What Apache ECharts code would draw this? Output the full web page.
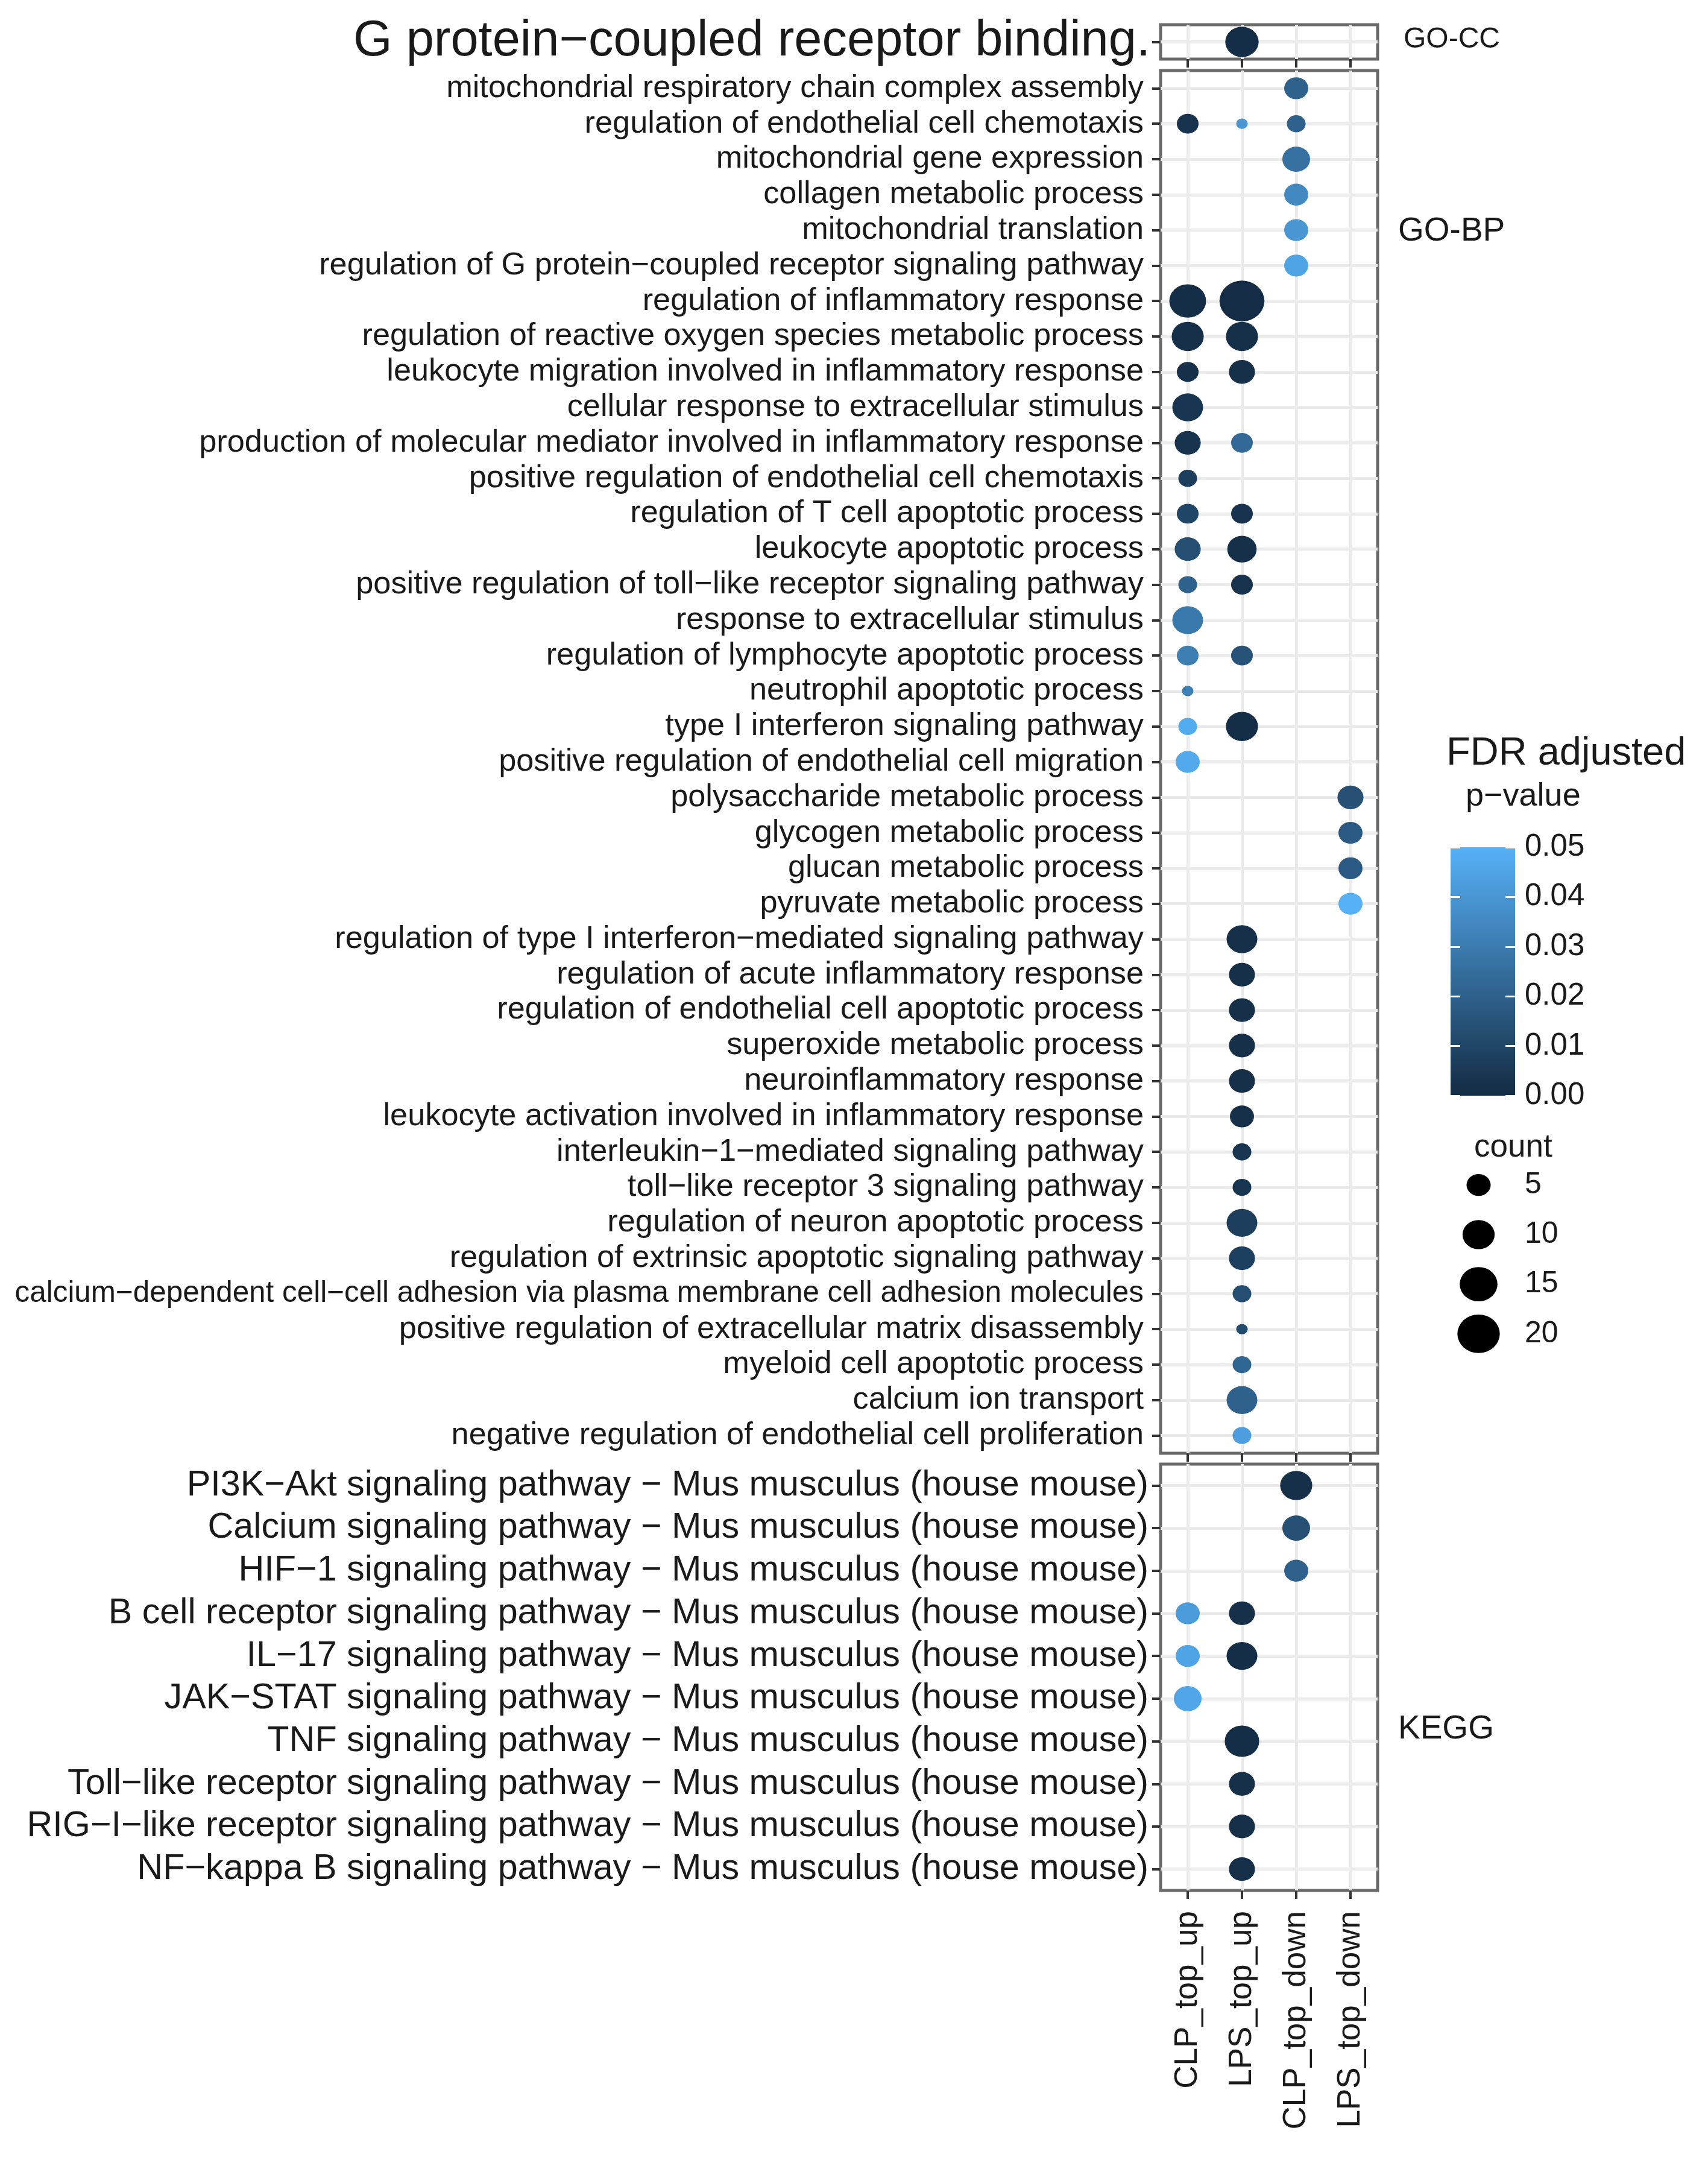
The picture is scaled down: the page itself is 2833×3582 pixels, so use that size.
<!DOCTYPE html>
<html><head><meta charset="utf-8">
<script src="https://cdn.jsdelivr.net/npm/echarts@6/dist/echarts.min.js"></script>
<style>html,body{margin:0;padding:0;background:#fff}#c{width:2833px;height:3582px}</style>
</head><body><div id="c"></div>
<script>
const _ = null;
const groups = ['CLP_top_up', 'LPS_top_up', 'CLP_top_down', 'LPS_top_down'];

// GO-CC
const ccTerms = ['G protein−coupled receptor binding.'];
const ccCountCLPup = [_];   const ccPvalCLPup = [_];
const ccCountLPSup = [11];  const ccPvalLPSup = [0.001];
const ccCountCLPdown = [_]; const ccPvalCLPdown = [_];
const ccCountLPSdown = [_]; const ccPvalLPSdown = [_];

// GO-BP
const bpTerms = [
  'mitochondrial respiratory chain complex assembly',
  'regulation of endothelial cell chemotaxis',
  'mitochondrial gene expression',
  'collagen metabolic process',
  'mitochondrial translation',
  'regulation of G protein−coupled receptor signaling pathway',
  'regulation of inflammatory response',
  'regulation of reactive oxygen species metabolic process',
  'leukocyte migration involved in inflammatory response',
  'cellular response to extracellular stimulus',
  'production of molecular mediator involved in inflammatory response',
  'positive regulation of endothelial cell chemotaxis',
  'regulation of T cell apoptotic process',
  'leukocyte apoptotic process',
  'positive regulation of toll−like receptor signaling pathway',
  'response to extracellular stimulus',
  'regulation of lymphocyte apoptotic process',
  'neutrophil apoptotic process',
  'type I interferon signaling pathway',
  'positive regulation of endothelial cell migration',
  'polysaccharide metabolic process',
  'glycogen metabolic process',
  'glucan metabolic process',
  'pyruvate metabolic process',
  'regulation of type I interferon−mediated signaling pathway',
  'regulation of acute inflammatory response',
  'regulation of endothelial cell apoptotic process',
  'superoxide metabolic process',
  'neuroinflammatory response',
  'leukocyte activation involved in inflammatory response',
  'interleukin−1−mediated signaling pathway',
  'toll−like receptor 3 signaling pathway',
  'regulation of neuron apoptotic process',
  'regulation of extrinsic apoptotic signaling pathway',
  'calcium−dependent cell−cell adhesion via plasma membrane cell adhesion molecules',
  'positive regulation of extracellular matrix disassembly',
  'myeloid cell apoptotic process',
  'calcium ion transport',
  'negative regulation of endothelial cell proliferation'
];
const bpCountCLPup = [_,4,_,_,_,_,14,10,4,9, 6,3,4,6,3,9,4,2,3,5, _,_,_,_,_,_,_,_,_,_, _,_,_,_,_,_,_,_,_];
const bpPvalCLPup  = [_,0.003,_,_,_,_,0.001,0.002,0.002,0.004, 0.003,0.007,0.010,0.013,0.020,0.029,0.031,0.032,0.048,0.047, _,_,_,_,_,_,_,_,_,_, _,_,_,_,_,_,_,_,_];
const bpCountLPSup = [_,2,_,_,_,_,23,10,6,_, 4,_,4,8,4,_,4,_,10,_, _,_,_,_,9,6,6,6,6,5, 3,3,9,6,3,2,3,9,3];
const bpPvalLPSup  = [_,0.040,_,_,_,_,0.0005,0.002,0.002,_, 0.023,_,0.003,0.002,0.003,_,0.015,_,0.001,_, _,_,_,_,0.002,0.002,0.002,0.002,0.002,0.002, 0.004,0.004,0.007,0.008,0.013,0.012,0.022,0.020,0.043];
const bpCountCLPdown = [5,3,7,5,5,5,_,_,_,_, _,_,_,_,_,_,_,_,_,_, _,_,_,_,_,_,_,_,_,_, _,_,_,_,_,_,_,_,_];
const bpPvalCLPdown  = [0.020,0.020,0.026,0.035,0.040,0.045,_,_,_,_, _,_,_,_,_,_,_,_,_,_, _,_,_,_,_,_,_,_,_,_, _,_,_,_,_,_,_,_,_];
const bpCountLPSdown = [_,_,_,_,_,_,_,_,_,_, _,_,_,_,_,_,_,_,_,_, 6,5,5,5,_,_,_,_,_,_, _,_,_,_,_,_,_,_,_];
const bpPvalLPSdown  = [_,_,_,_,_,_,_,_,_,_, _,_,_,_,_,_,_,_,_,_, 0.014,0.018,0.018,0.050,_,_,_,_,_,_, _,_,_,_,_,_,_,_,_];

// KEGG
const keggTerms = [
  'PI3K−Akt signaling pathway − Mus musculus (house mouse)',
  'Calcium signaling pathway − Mus musculus (house mouse)',
  'HIF−1 signaling pathway − Mus musculus (house mouse)',
  'B cell receptor signaling pathway − Mus musculus (house mouse)',
  'IL−17 signaling pathway − Mus musculus (house mouse)',
  'JAK−STAT signaling pathway − Mus musculus (house mouse)',
  'TNF signaling pathway − Mus musculus (house mouse)',
  'Toll−like receptor signaling pathway − Mus musculus (house mouse)',
  'RIG−I−like receptor signaling pathway − Mus musculus (house mouse)',
  'NF−kappa B signaling pathway − Mus musculus (house mouse)'
];
const keggCountCLPup = [_,_,_,5,5,7,_,_,_,_];
const keggPvalCLPup  = [_,_,_,0.042,0.045,0.046,_,_,_,_];
const keggCountLPSup = [_,_,_,6,9,_,12,6,6,6];
const keggPvalLPSup  = [_,_,_,0.002,0.001,_,0.001,0.002,0.002,0.002];
const keggCountCLPdown = [10,7,5,_,_,_,_,_,_,_];
const keggPvalCLPdown  = [0.002,0.014,0.020,_,_,_,_,_,_,_];
const keggCountLPSdown = [_,_,_,_,_,_,_,_,_,_];
const keggPvalLPSdown  = [_,_,_,_,_,_,_,_,_,_];

// legends
const pBreaks = [0, 0.01, 0.02, 0.03, 0.04, 0.05];
const sizeBreaks = [5, 10, 15, 20];

const LO = '#132B43', HI = '#56B1F7';
const FONT = "'Liberation Sans', Arial, Helvetica, sans-serif";
const TXT = '#1a1a1a';

function build(counts, pvals) {
  const out = [];
  counts.forEach((arr, g) => arr.forEach((c, t) => {
    if (c !== null) out.push([g, t, c, pvals[g][t]]);
  }));
  return out;
}
const ccData = build([ccCountCLPup, ccCountLPSup, ccCountCLPdown, ccCountLPSdown],
                     [ccPvalCLPup, ccPvalLPSup, ccPvalCLPdown, ccPvalLPSdown]);
const bpData = build([bpCountCLPup, bpCountLPSup, bpCountCLPdown, bpCountLPSdown],
                     [bpPvalCLPup, bpPvalLPSup, bpPvalCLPdown, bpPvalLPSdown]);
const keggData = build([keggCountCLPup, keggCountLPSup, keggCountCLPdown, keggCountLPSdown],
                       [keggPvalCLPup, keggPvalLPSup, keggPvalCLPdown, keggPvalLPSdown]);

function dotW(c) { return 19 + 12.1 * Math.sqrt(Math.max(c - 2, 0)); }
function symSize(v) { const w = dotW(v[2]); return [w, w / 1.1]; }

const panelGrid = { show: true, borderColor: '#6a6a6a', borderWidth: 5, backgroundColor: '#fff', outerBoundsMode: 'none', containLabel: false };
const tick = { show: true, alignWithLabel: true, length: 14, interval: 0, lineStyle: { color: '#333', width: 4 } };
const split = { show: true, alignWithLabel: true, interval: 0, lineStyle: { color: '#EBEBEB', width: 5 } };

function xAx(i, showLabel) {
  return {
    type: 'category', gridIndex: i, data: groups, boundaryGap: true,
    axisLine: { show: false }, axisTick: tick, splitLine: split,
    axisLabel: { show: showLabel, rotate: 90, fontSize: 53, color: TXT, margin: 34, fontFamily: FONT, interval: 0 }
  };
}
function yAx(i, terms, fs, margin) {
  return {
    type: 'category', gridIndex: i, data: terms, inverse: true, boundaryGap: true,
    axisLine: { show: false }, axisTick: tick, splitLine: split,
    axisLabel: { fontSize: fs, color: TXT, margin: margin, fontFamily: FONT, interval: 0 }
  };
}

const option = {
  animation: false,
  backgroundColor: '#fff',
  grid: [
    Object.assign({ left: 1925, top: 41, width: 360, height: 57 }, panelGrid),
    Object.assign({ left: 1925, top: 117, width: 360, height: 2293 }, panelGrid),
    Object.assign({ left: 1925, top: 2428, width: 360, height: 707 }, panelGrid),
    { left: 2406, top: 1405, width: 107, height: 412, outerBoundsMode: 'none' },
    { left: 2400, top: 1924, width: 105, height: 329, outerBoundsMode: 'none' }
  ],
  xAxis: [
    xAx(0, false), xAx(1, false), xAx(2, true),
    { type: 'category', gridIndex: 3, data: ['FDR'], show: false },
    { type: 'category', gridIndex: 4, data: ['count'], show: false }
  ],
  yAxis: [
    yAx(0, ccTerms, 83, 17),
    (function () {
      const a = yAx(1, bpTerms, 52.3, 28);
      a.axisLabel.formatter = v => v.length > 75 ? '{s|' + v + '}' : v;
      a.axisLabel.rich = { s: { fontSize: 49.4, fontFamily: FONT, color: TXT } };
      return a;
    })(),
    yAx(2, keggTerms, 59.3, 20),
    {
      type: 'value', gridIndex: 3, min: pBreaks[0], max: pBreaks[pBreaks.length - 1], interval: 0.01,
      position: 'right', z: 10, axisLine: { show: false }, splitLine: { show: false },
      axisTick: { show: true, inside: true, length: 16, lineStyle: { color: '#fff', width: 3 } },
      axisLabel: { fontSize: 51, color: TXT, margin: 16, fontFamily: FONT, formatter: v => v.toFixed(2) }
    },
    {
      type: 'value', gridIndex: 3, min: pBreaks[0], max: pBreaks[pBreaks.length - 1], interval: 0.01,
      position: 'left', z: 10, axisLine: { show: false }, splitLine: { show: false },
      axisTick: { show: true, inside: true, length: 16, lineStyle: { color: '#fff', width: 3 } },
      axisLabel: { show: false }
    },
    {
      type: 'category', gridIndex: 4, data: sizeBreaks.map(String), inverse: true, position: 'right',
      axisLine: { show: false }, axisTick: { show: false }, splitLine: { show: false },
      axisLabel: { fontSize: 50, color: TXT, margin: 24, fontFamily: FONT }
    }
  ],
  visualMap: [{
    type: 'continuous', show: false, seriesIndex: [0, 1, 2], dimension: 3,
    min: pBreaks[0], max: pBreaks[pBreaks.length - 1], inRange: { color: [LO, HI] }
  }],
  series: [
    { type: 'scatter', xAxisIndex: 0, yAxisIndex: 0, data: ccData, symbolSize: symSize, itemStyle: { opacity: 1 }, z: 3 },
    { type: 'scatter', xAxisIndex: 1, yAxisIndex: 1, data: bpData, symbolSize: symSize, itemStyle: { opacity: 1 }, z: 3 },
    { type: 'scatter', xAxisIndex: 2, yAxisIndex: 2, data: keggData, symbolSize: symSize, itemStyle: { opacity: 1 }, z: 3 },
    {
      type: 'bar', xAxisIndex: 3, yAxisIndex: 3, data: [pBreaks[pBreaks.length - 1]], barWidth: '100%', silent: true,
      itemStyle: { color: new echarts.graphic.LinearGradient(0, 0, 0, 1, [{ offset: 0, color: HI }, { offset: 1, color: LO }]) }
    },
    {
      type: 'scatter', xAxisIndex: 4, yAxisIndex: 5, data: sizeBreaks.map((c, i) => [0, i, c]),
      symbolSize: symSize, itemStyle: { color: '#000', opacity: 1 }
    }
  ],
  graphic: [
    { type: 'text', x: 2328, y: 66, style: { text: 'GO-CC', fontSize: 48, fontFamily: FONT, fill: TXT, verticalAlign: 'middle', align: 'left' } },
    { type: 'text', x: 2319, y: 384, style: { text: 'GO-BP', fontSize: 55, fontFamily: FONT, fill: TXT, verticalAlign: 'middle', align: 'left' } },
    { type: 'text', x: 2319, y: 2868, style: { text: 'KEGG', fontSize: 55, fontFamily: FONT, fill: TXT, verticalAlign: 'middle', align: 'left' } },
    { type: 'text', x: 2399, y: 1250, style: { text: 'FDR adjusted', fontSize: 65, fontFamily: FONT, fill: TXT, verticalAlign: 'middle', align: 'left' } },
    { type: 'text', x: 2431, y: 1321, style: { text: 'p−value', fontSize: 54, fontFamily: FONT, fill: TXT, verticalAlign: 'middle', align: 'left' } },
    { type: 'text', x: 2445, y: 1903, style: { text: 'count', fontSize: 53, fontFamily: FONT, fill: TXT, verticalAlign: 'middle', align: 'left' } }
  ]
};

const chart = echarts.init(document.getElementById('c'), null, { renderer: 'canvas' });
chart.setOption(option);
</script></body></html>
